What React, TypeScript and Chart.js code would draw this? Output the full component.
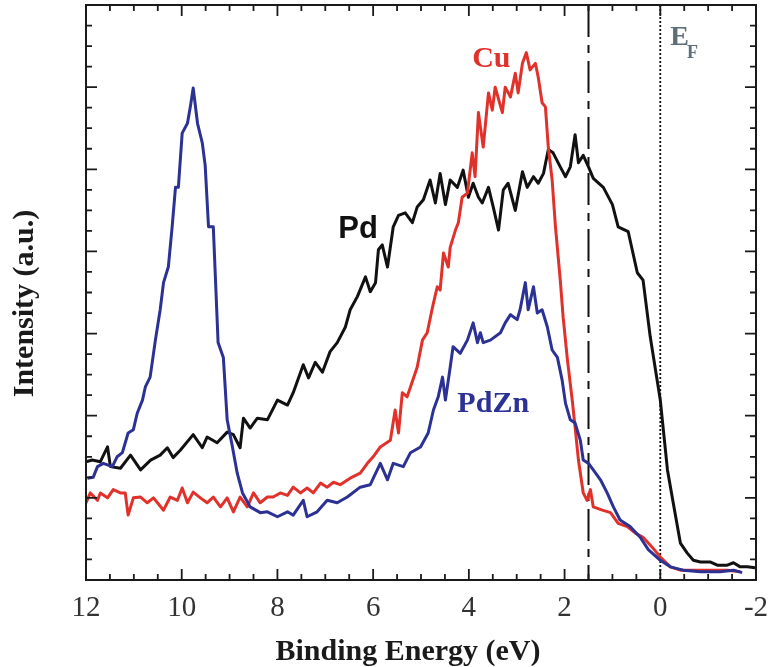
import React, { useEffect, useRef } from "react";
import { Chart, registerables } from "chart.js";

Chart.register(...registerables);

// ---- Data (binding energy in eV, intensity in arbitrary units) ----
const pdEnergy = [12.0, 11.87, 11.70, 11.55, 11.49, 11.28, 11.07, 10.86, 10.65, 10.45, 10.30, 10.18, 10.03, 9.76, 9.57, 9.47, 9.26, 9.05, 8.92, 8.78, 8.71, 8.57, 8.42, 8.21, 8.00, 7.79, 7.67, 7.46, 7.35, 7.21, 7.06, 6.90, 6.75, 6.58, 6.48, 6.33, 6.16, 6.06, 5.95, 5.89, 5.81, 5.70, 5.58, 5.47, 5.33, 5.18, 5.08, 4.95, 4.81, 4.70, 4.60, 4.49, 4.39, 4.24, 4.12, 4.01, 3.91, 3.80, 3.72, 3.59, 3.49, 3.38, 3.28, 3.18, 3.03, 2.88, 2.78, 2.65, 2.55, 2.44, 2.34, 2.24, 2.09, 1.98, 1.88, 1.78, 1.71, 1.61, 1.50, 1.40, 1.19, 1.00, 0.88, 0.67, 0.48, 0.36, 0.21, 0.00, -0.15, -0.27, -0.42, -0.56, -0.69, -0.84, -1.04, -1.19, -1.40, -1.53, -1.67, -1.82, -1.98];
const pdIntensity = [1.44, 1.46, 1.44, 1.62, 1.38, 1.36, 1.52, 1.34, 1.46, 1.52, 1.61, 1.49, 1.58, 1.77, 1.61, 1.74, 1.67, 1.80, 1.77, 1.61, 1.97, 1.85, 1.97, 1.95, 2.19, 2.13, 2.28, 2.62, 2.46, 2.65, 2.53, 2.78, 2.89, 3.08, 3.29, 3.45, 3.69, 3.51, 3.62, 4.02, 4.08, 3.81, 4.30, 4.44, 4.47, 4.35, 4.54, 4.63, 4.87, 4.59, 4.95, 4.57, 4.87, 4.78, 4.99, 4.66, 4.83, 4.66, 4.59, 4.78, 4.54, 4.26, 4.75, 4.83, 4.50, 4.97, 4.78, 4.91, 4.83, 4.95, 5.24, 5.20, 5.03, 4.91, 5.03, 5.42, 5.08, 5.17, 5.03, 4.89, 4.78, 4.57, 4.30, 4.24, 3.74, 3.65, 2.96, 2.19, 1.34, 0.94, 0.45, 0.33, 0.24, 0.22, 0.22, 0.18, 0.18, 0.21, 0.16, 0.16, 0.15];

const cuEnergy = [12.0, 11.91, 11.76, 11.70, 11.55, 11.43, 11.28, 11.18, 11.12, 11.01, 10.86, 10.72, 10.59, 10.38, 10.24, 10.09, 9.99, 9.88, 9.76, 9.61, 9.47, 9.34, 9.19, 9.05, 8.92, 8.78, 8.63, 8.50, 8.36, 8.21, 8.09, 7.94, 7.79, 7.67, 7.52, 7.38, 7.25, 7.10, 6.96, 6.83, 6.69, 6.48, 6.27, 6.12, 6.00, 5.85, 5.64, 5.54, 5.47, 5.39, 5.29, 5.22, 5.08, 4.97, 4.87, 4.76, 4.66, 4.60, 4.53, 4.43, 4.39, 4.28, 4.22, 4.14, 4.03, 3.93, 3.87, 3.80, 3.70, 3.59, 3.51, 3.45, 3.30, 3.24, 3.13, 3.03, 2.97, 2.88, 2.80, 2.72, 2.61, 2.55, 2.47, 2.40, 2.34, 2.26, 2.19, 2.09, 2.03, 1.94, 1.84, 1.78, 1.71, 1.61, 1.53, 1.46, 1.40, 1.21, 1.04, 0.88, 0.69, 0.52, 0.36, 0.17, 0.00, -0.21, -0.42, -0.69, -1.04, -1.40, -1.67];
const cuIntensity = [0.94, 1.06, 0.97, 1.06, 1.00, 1.10, 1.06, 1.06, 0.79, 1.00, 1.01, 0.94, 1.00, 0.85, 1.01, 0.97, 1.12, 0.94, 1.07, 1.00, 0.94, 1.01, 0.89, 1.00, 0.83, 1.01, 0.89, 1.06, 0.94, 1.01, 1.01, 1.06, 1.03, 1.13, 1.06, 1.12, 1.06, 1.18, 1.13, 1.19, 1.16, 1.24, 1.30, 1.42, 1.50, 1.62, 1.70, 2.07, 1.79, 2.28, 2.23, 2.35, 2.59, 2.92, 3.01, 3.32, 3.57, 3.53, 3.98, 3.81, 4.05, 4.26, 4.35, 4.66, 4.71, 5.20, 4.91, 5.69, 5.27, 5.93, 5.72, 6.00, 5.69, 6.00, 5.88, 6.17, 5.93, 6.29, 6.42, 6.21, 6.29, 6.12, 5.81, 5.76, 5.27, 4.87, 4.30, 3.65, 3.20, 2.68, 2.19, 1.86, 1.46, 1.06, 0.97, 1.10, 0.89, 0.85, 0.82, 0.69, 0.65, 0.57, 0.52, 0.40, 0.28, 0.16, 0.12, 0.12, 0.12, 0.12, 0.10];

const pdznEnergy = [11.97, 11.85, 11.76, 11.64, 11.45, 11.35, 11.24, 11.12, 11.01, 10.93, 10.82, 10.76, 10.66, 10.55, 10.45, 10.38, 10.28, 10.20, 10.13, 10.07, 9.99, 9.88, 9.82, 9.76, 9.67, 9.57, 9.51, 9.44, 9.34, 9.24, 9.13, 9.05, 8.94, 8.84, 8.73, 8.57, 8.36, 8.21, 8.00, 7.79, 7.67, 7.46, 7.38, 7.17, 6.96, 6.75, 6.54, 6.27, 6.06, 5.85, 5.70, 5.58, 5.37, 5.22, 5.01, 4.85, 4.74, 4.64, 4.55, 4.49, 4.39, 4.33, 4.18, 4.03, 3.91, 3.82, 3.76, 3.70, 3.55, 3.34, 3.24, 3.13, 2.99, 2.93, 2.82, 2.76, 2.65, 2.57, 2.47, 2.36, 2.26, 2.15, 2.05, 1.98, 1.88, 1.78, 1.67, 1.61, 1.50, 1.40, 1.25, 1.11, 0.98, 0.84, 0.63, 0.42, 0.25, 0.00, -0.21, -0.48, -0.84, -1.25, -1.53, -1.71];
const pdznIntensity = [1.24, 1.25, 1.38, 1.42, 1.38, 1.50, 1.55, 1.79, 1.83, 2.03, 2.19, 2.35, 2.47, 2.92, 3.29, 3.62, 3.81, 4.30, 4.78, 4.78, 5.44, 5.56, 5.76, 5.99, 5.56, 5.32, 5.05, 4.30, 4.30, 2.89, 2.71, 1.95, 1.62, 1.30, 1.06, 0.89, 0.82, 0.83, 0.77, 0.83, 0.79, 0.97, 0.77, 0.83, 0.97, 0.94, 1.01, 1.13, 1.16, 1.42, 1.22, 1.42, 1.38, 1.55, 1.62, 1.79, 2.07, 2.23, 2.47, 2.19, 2.59, 2.84, 2.76, 2.92, 3.13, 2.89, 3.01, 2.89, 2.92, 3.01, 3.13, 3.23, 3.17, 3.29, 3.62, 3.29, 3.57, 3.25, 3.29, 3.08, 2.80, 2.71, 2.43, 2.15, 1.95, 1.91, 1.70, 1.46, 1.42, 1.34, 1.22, 1.06, 0.89, 0.73, 0.65, 0.52, 0.37, 0.24, 0.16, 0.12, 0.10, 0.10, 0.12, 0.09];

// Axis ranges / ticks
const xMin = -2;
const xMax = 12;
const xMajorStep = 2;
const xMinorStep = 0.5;
const yMin = 0;
const yMax = 7;
const yMajorStep = 1;
const yMinorStep = 0.25;

// Reference lines (eV)
const dashDotLineEnergy = 1.5;
const fermiLineEnergy = 0;

// Text labels in data coordinates
const seriesLabels = [
  { text: "Pd", x: 6.73, y: 4.16, color: "#111111", font: "bold 31px 'Liberation Sans', Arial, sans-serif" },
  { text: "Cu", x: 3.93, y: 6.25, color: "#e0312b", font: "bold 30px 'Liberation Serif', 'Times New Roman', serif" },
  { text: "PdZn", x: 4.24, y: 2.05, color: "#2c3194", font: "bold 30px 'Liberation Serif', 'Times New Roman', serif" },
];
const fermiLabel = { main: "E", sub: "F", x: -0.21, y: 6.51, subX: -0.56, subY: 6.36, color: "#5f6f7a" };

const xTitle = "Binding Energy (eV)";
const yTitle = "Intensity (a.u.)";

const SERIF = "'Liberation Serif', 'Times New Roman', serif";

function toPoints(xs: number[], ys: number[]) {
  const n = Math.min(xs.length, ys.length);
  const pts: { x: number; y: number }[] = [];
  for (let i = 0; i < n; i++) pts.push({ x: xs[i], y: ys[i] });
  return pts;
}

export default function App() {
  const ref = useRef<HTMLCanvasElement>(null);

  useEffect(() => {
    const canvas = ref.current;
    if (!canvas) return;

    const framePlugin = {
      id: "frameAndAnnotations",
      beforeDatasetsDraw(chart: any) {
        const { ctx, chartArea, scales } = chart;
        const xs = scales.x;
        ctx.save();
        ctx.strokeStyle = "#111";
        ctx.lineWidth = 2;
        // dash-dot line
        let px = xs.getPixelForValue(dashDotLineEnergy);
        ctx.setLineDash([32, 8, 8, 8]);
        ctx.beginPath();
        ctx.moveTo(px, chartArea.top);
        ctx.lineTo(px, chartArea.bottom);
        ctx.stroke();
        // dotted Fermi line
        px = xs.getPixelForValue(fermiLineEnergy);
        ctx.setLineDash([2, 2]);
        ctx.lineWidth = 1.8;
        ctx.beginPath();
        ctx.moveTo(px, chartArea.top);
        ctx.lineTo(px, chartArea.bottom);
        ctx.stroke();
        ctx.restore();
      },
      afterDatasetsDraw(chart: any) {
        const { ctx, chartArea, scales } = chart;
        const xs = scales.x;
        const ys = scales.y;
        const { left, right, top, bottom } = chartArea;
        ctx.save();
        ctx.setLineDash([]);
        ctx.strokeStyle = "#1a1a1a";
        ctx.lineWidth = 2;
        ctx.strokeRect(left, top, right - left, bottom - top);

        ctx.lineWidth = 1.8;
        // x ticks (inward, top and bottom)
        const nx = Math.round((xMax - xMin) / xMinorStep);
        for (let i = 0; i <= nx; i++) {
          const v = xMin + i * xMinorStep;
          const isMajor = Math.abs(v / xMajorStep - Math.round(v / xMajorStep)) < 1e-6;
          const len = isMajor ? 11 : 6;
          const p = xs.getPixelForValue(v);
          ctx.beginPath();
          ctx.moveTo(p, bottom);
          ctx.lineTo(p, bottom - len);
          ctx.moveTo(p, top);
          ctx.lineTo(p, top + len);
          ctx.stroke();
        }
        // y ticks (inward, left and right)
        const ny = Math.round((yMax - yMin) / yMinorStep);
        for (let i = 0; i <= ny; i++) {
          const v = yMin + i * yMinorStep;
          const isMajor = Math.abs(v / yMajorStep - Math.round(v / yMajorStep)) < 1e-6;
          const len = isMajor ? 11 : 6;
          const p = ys.getPixelForValue(v);
          ctx.beginPath();
          ctx.moveTo(left, p);
          ctx.lineTo(left + len, p);
          ctx.moveTo(right, p);
          ctx.lineTo(right - len, p);
          ctx.stroke();
        }

        // series labels
        ctx.textAlign = "left";
        ctx.textBaseline = "alphabetic";
        for (const l of seriesLabels) {
          ctx.font = l.font;
          ctx.fillStyle = l.color;
          ctx.fillText(l.text, xs.getPixelForValue(l.x), ys.getPixelForValue(l.y));
        }
        // E_F
        ctx.fillStyle = fermiLabel.color;
        ctx.font = `bold 28px ${SERIF}`;
        ctx.fillText(fermiLabel.main, xs.getPixelForValue(fermiLabel.x), ys.getPixelForValue(fermiLabel.y));
        ctx.font = `bold 18px ${SERIF}`;
        ctx.fillText(fermiLabel.sub, xs.getPixelForValue(fermiLabel.subX), ys.getPixelForValue(fermiLabel.subY));

        // axis titles
        ctx.fillStyle = "#1a1a1a";
        ctx.font = `bold 30px ${SERIF}`;
        ctx.textAlign = "center";
        ctx.fillText(xTitle, (left + right) / 2 - 13, 660);
        ctx.save();
        ctx.translate(33, (top + bottom) / 2 + 11);
        ctx.rotate(-Math.PI / 2);
        ctx.fillText(yTitle, 0, 0);
        ctx.restore();

        ctx.restore();
      },
    };

    const chart = new Chart(canvas, {
      type: "line",
      data: {
        datasets: [
          {
            label: "PdZn",
            data: toPoints(pdznEnergy, pdznIntensity),
            borderColor: "#2c3194",
            borderWidth: 3,
          },
          {
            label: "Cu",
            data: toPoints(cuEnergy, cuIntensity),
            borderColor: "#e0312b",
            borderWidth: 3,
          },
          {
            label: "Pd",
            data: toPoints(pdEnergy, pdIntensity),
            borderColor: "#111111",
            borderWidth: 3,
          },
        ],
      },
      options: {
        responsive: false,
        animation: false,
        layout: { padding: { left: 0, right: 13, top: 5, bottom: 0 } },
        plugins: {
          legend: { display: false },
          tooltip: { enabled: false },
        },
        elements: {
          point: { radius: 0 },
          line: { tension: 0, fill: false, borderJoinStyle: "round" },
        },
        scales: {
          x: {
            type: "linear",
            reverse: true,
            min: xMin,
            max: xMax,
            grid: { display: false, drawTicks: false },
            border: { display: false },
            ticks: {
              stepSize: xMajorStep,
              padding: 11,
              color: "#333333",
              font: { family: SERIF, size: 29 },
              maxRotation: 0,
              autoSkip: false,
            },
            afterFit: (s: any) => {
              s.height = 87;
              s.paddingLeft = 0;
              s.paddingRight = 0;
            },
          },
          y: {
            type: "linear",
            min: yMin,
            max: yMax,
            grid: { display: false, drawTicks: false },
            border: { display: false },
            ticks: { display: false },
            afterFit: (s: any) => {
              s.width = 86;
              s.paddingTop = 0;
              s.paddingBottom = 0;
            },
          },
        },
      } as any,
      plugins: [framePlugin],
    });

    return () => chart.destroy();
  }, []);

  return (
    <div style={{ position: "absolute", left: 0, top: 0, width: 769, height: 667, background: "#fff" }}>
      <canvas ref={ref} width={769} height={667} style={{ display: "block" }} />
    </div>
  );
}
